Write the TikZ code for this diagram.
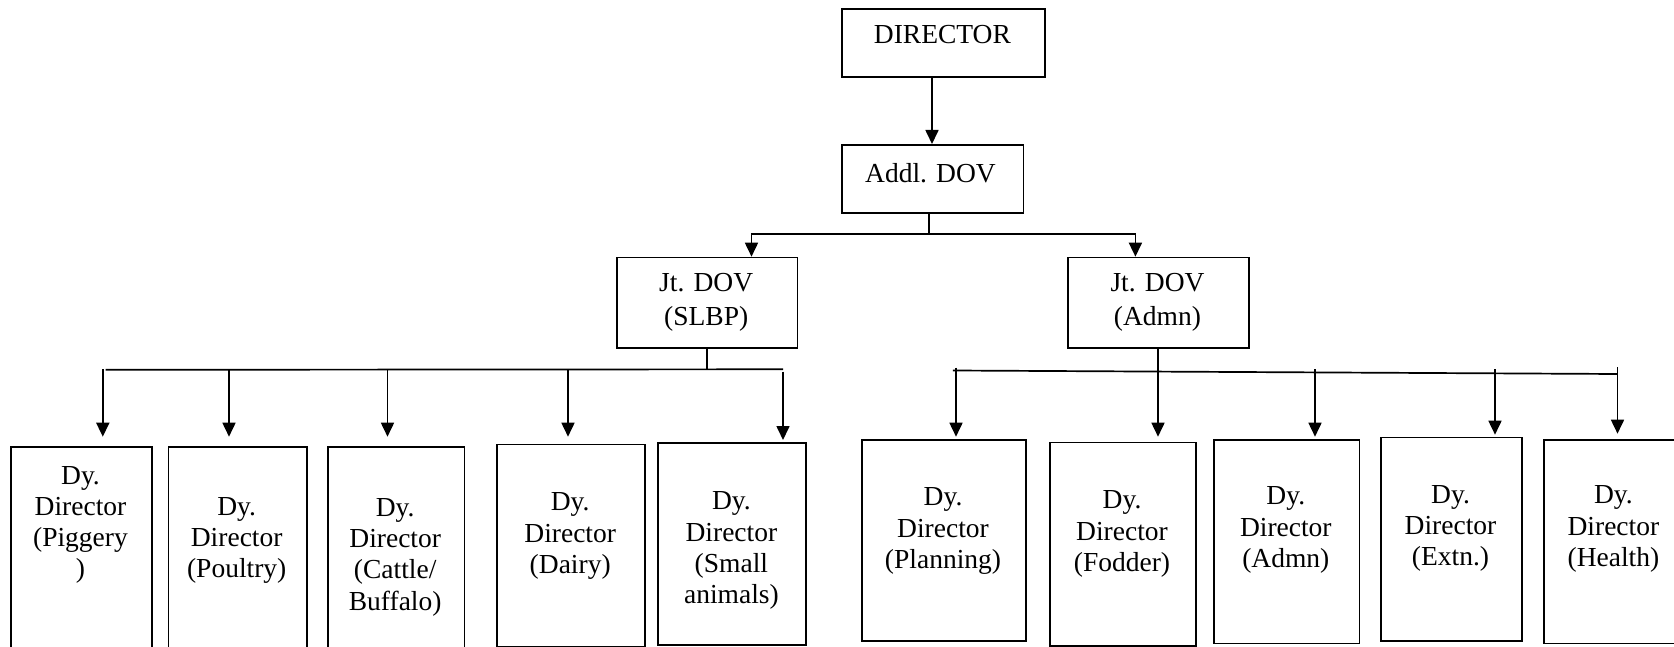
\documentclass[tikz,border=0pt]{standalone}
\usepackage{fontspec}
\setmainfont{Liberation Serif}
\usetikzlibrary{arrows.meta}
\tikzset{
  box/.style={draw, line width=1.6pt, inner sep=0pt, anchor=north west},
  lbl/.style={align=center, inner sep=0pt, anchor=north, font=\fontsize{27.5}{31.2}\selectfont},
  lblj/.style={lbl, font=\fontsize{27.5}{33.4}\selectfont},
  ln/.style={line width=1.7pt},
  arr/.style={line width=1.7pt, -{Triangle[length=14pt,width=13pt]}},
}
\begin{document}
\begin{tikzpicture}[x=1pt,y=-1pt]
\useasboundingbox (0,0) rectangle (1674,647);
\clip (0,0) rectangle (1674,647);
% top boxes
\node[box, minimum width=203pt, minimum height=67.5pt] (dir) at (841,8.5) {};
\node[lbl] (dirt) at (942.4,25.5) {DIRECTOR};
\node[box, minimum width=181.5pt, minimum height=68pt] (addl) at (841,144) {};
\node[lbl] (addlt) at (930.5,163.5) {Addl. DOV};
\node[box, minimum width=180.5pt, minimum height=90.6pt] (slbp) at (616,256.7) {};
\node[lblj] (slbpt) at (706.2,273.5) {Jt. DOV\\(SLBP)};
\node[box, minimum width=181pt, minimum height=90.6pt] (jadm) at (1067,256.7) {};
\node[lblj] (jadmt) at (1157.5,273.5) {Jt. DOV\\(Admn)};
% left row
\node[box, minimum width=141pt, minimum height=220pt] (pig) at (10,446) {};
\node[lbl] (pigt) at (80.5,466) {Dy.\\Director\\(Piggery\\)};
\node[box, minimum width=138.5pt, minimum height=220pt] (pou) at (167.5,446) {};
\node[lbl] (pout) at (236.7,497.3) {Dy.\\Director\\(Poultry)};
\node[box, minimum width=136.5pt, minimum height=220pt] (cat) at (327,446) {};
\node[lbl] (catt) at (395.2,498.3) {Dy.\\Director\\(Cattle/\\Buffalo)};
\node[box, minimum width=148.4pt, minimum height=202pt] (dai) at (496,443.7) {};
\node[lbl] (dait) at (570.2,492.7) {Dy.\\Director\\(Dairy)};
\node[box, minimum width=148pt, minimum height=201.7pt] (sma) at (657.4,442.3) {};
\node[lbl] (smat) at (731.4,491.7) {Dy.\\Director\\(Small\\animals)};
% right row
\node[box, minimum width=164pt, minimum height=201pt] (pla) at (861,439) {};
\node[lbl] (plat) at (943,487.7) {Dy.\\Director\\(Planning)};
\node[box, minimum width=146pt, minimum height=203.3pt] (fod) at (1049,441.7) {};
\node[lbl] (fodt) at (1122,490.7) {Dy.\\Director\\(Fodder)};
\node[box, minimum width=145.6pt, minimum height=203.7pt] (adm) at (1213,439) {};
\node[lbl] (admt) at (1285.8,486.7) {Dy.\\Director\\(Admn)};
\node[box, minimum width=141pt, minimum height=203.3pt] (ext) at (1380,436.7) {};
\node[lbl] (extt) at (1450.5,485) {Dy.\\Director\\(Extn.)};
\node[box, minimum width=141pt, minimum height=203.7pt] (hea) at (1543,439) {};
\node[lbl] (heat) at (1613.4,485.7) {Dy.\\Director\\(Health)};
% connectors top
\coordinate (a1) at (932,0);
\draw[arr] (a1 |- dir.south) -- (a1 |- addl.north);
\coordinate (c2) at (929,234.3);
\coordinate (bL) at (751.5,234.3);
\coordinate (bR) at (1135.4,234.3);
\draw[ln] (c2 |- addl.south) -- (c2);
\draw[arr] (c2) -- (bL) -- (bL |- slbp.north);
\draw[arr] (c2) -- (bR) -- (bR |- jadm.north);
% SLBP bus
\coordinate (s0) at (707,369.3);
\coordinate (sl) at (105.5,369.8);
\coordinate (sr) at (783,369.3);
\draw[ln] (s0 |- slbp.south) -- (s0);
\draw[ln] (sl) -- (sr);
\coordinate (sa1) at (102.8,369.3);
\coordinate (sa2) at (229,369.3);
\coordinate (sa3) at (387.5,369.3);
\coordinate (sa4) at (568,369.3);
\coordinate (sa5) at (783,371.7);
\draw[arr, shorten >=9.3pt] (sa1) -- (sa1 |- pig.north);
\draw[arr, shorten >=9.3pt] (sa2) -- (sa2 |- pou.north);
\draw[arr, shorten >=9.3pt] (sa3) -- (sa3 |- cat.north);
\draw[arr, shorten >=7pt] (sa4) -- (sa4 |- dai.north);
\draw[arr, shorten >=2.3pt] (sa5) -- (sa5 |- sma.north);
% Admn bus
\coordinate (r0) at (1158,0);
\coordinate (rl) at (952.8,370.5);
\coordinate (rr) at (1617.7,374);
\draw[ln] (rl) -- (rr);
\draw[arr, shorten >=5pt] (r0 |- jadm.south) -- (r0 |- fod.north);
\coordinate (ra1) at (956,367.5);
\coordinate (ra3) at (1315,369);
\coordinate (ra4) at (1495,369);
\coordinate (ra5) at (1617.5,367);
\draw[arr, shorten >=2.3pt] (ra1) -- (ra1 |- pla.north);
\draw[arr, shorten >=2.3pt] (ra3) -- (ra3 |- adm.north);
\draw[arr, shorten >=2pt] (ra4) -- (ra4 |- ext.north);
\draw[arr, shorten >=5.3pt] (ra5) -- (ra5 |- hea.north);
\end{tikzpicture}
\end{document}
